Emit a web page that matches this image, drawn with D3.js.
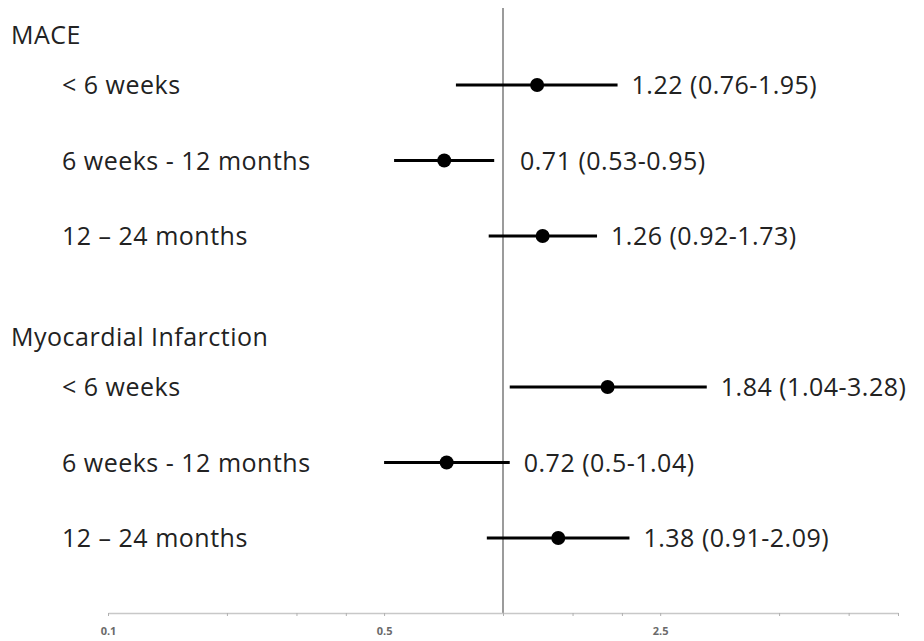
<!DOCTYPE html>
<html>
<head>
<meta charset="utf-8">
<script src="https://cdn.jsdelivr.net/npm/d3@7/dist/d3.min.js"></script>
<style>
  html, body { margin: 0; padding: 0; background: #fff; }
  svg { display: block; }
  text { font-family: "Open Sans", Lato, sans-serif; fill: #222; }
  text.label { font-size: 25px; letter-spacing: 0.5px; }
</style>
</head>
<body>
<svg id="chart" width="924" height="641"></svg>
<script>
// Outcome groups and the follow-up periods within each
const groups = ["MACE", "Myocardial Infarction"];
const periods = ["< 6 weeks", "6 weeks - 12 months", "12 – 24 months"];

// Hazard ratios with 95% confidence intervals, one row per group × period
const rowGroup = [0, 0, 0, 1, 1, 1];
const rowPeriod = [0, 1, 2, 0, 1, 2];
const hr = [1.22, 0.71, 1.26, 1.84, 0.72, 1.38];
const ciLow = [0.76, 0.53, 0.92, 1.04, 0.5, 0.91];
const ciHigh = [1.95, 0.95, 1.73, 3.28, 1.04, 2.09];

// Axis ticks (log scale); only some carry labels
const tickValues = [0.1, 0.2, 0.3, 0.4, 0.5, 1, 1.5, 2, 2.5, 5, 7.5, 10];
const tickLabels = [0.1, 0.5, 2.5];

const svg = d3.select("#chart");

const x = d3.scaleLog().domain([0.1, 10]).range([108, 898]);
// Vertical slots: each group takes three rows plus one spacer row
const y = d3.scaleLinear().domain([0, 6]).range([85, 538]);
const slot = (g, p) => g * 4 + p;

// Reference line at HR = 1
svg.append("line")
  .attr("x1", x(1)).attr("x2", x(1))
  .attr("y1", 8).attr("y2", 613)
  .attr("stroke", "#7a7a7a").attr("stroke-width", 1.5);

// Bottom axis
const axis = d3.axisBottom(x)
  .tickValues(tickValues)
  .tickSize(3)
  .tickSizeOuter(0)
  .tickFormat(d => tickLabels.includes(d) ? d3.format("")(d) : "");
const ax = svg.append("g").attr("transform", "translate(0,613)").call(axis);
ax.select(".domain").attr("stroke", "#c8c8c8").attr("stroke-width", 1.5);
ax.selectAll(".tick line").attr("stroke", "#b0b0b0");
ax.selectAll(".tick text")
  .attr("y", 14)
  .style("font-family", "'Open Sans', sans-serif")
  .style("font-size", "11px")
  .style("font-weight", "bold")
  .style("fill", "#6a6a6a");

// Group headings
svg.selectAll("text.group")
  .data(groups)
  .join("text")
  .attr("class", "group label")
  .attr("x", 11)
  .attr("y", (d, i) => y(i * 4 - 0.66))
  .attr("dy", "0.36em")
  .text(d => d);

const rows = hr.map((v, i) => ({
  g: rowGroup[i], p: rowPeriod[i], hr: v, lo: ciLow[i], hi: ciHigh[i]
}));

// Period labels
svg.selectAll("text.period")
  .data(rows)
  .join("text")
  .attr("class", "period label")
  .attr("x", 62)
  .attr("y", d => y(slot(d.g, d.p)))
  .attr("dy", "0.36em")
  .text(d => periods[d.p]);

// Confidence interval whiskers
svg.selectAll("line.ci")
  .data(rows)
  .join("line")
  .attr("class", "ci")
  .attr("x1", d => x(d.lo)).attr("x2", d => x(d.hi))
  .attr("y1", d => y(slot(d.g, d.p))).attr("y2", d => y(slot(d.g, d.p)))
  .attr("stroke", "#000").attr("stroke-width", 3);

// Point estimates
svg.selectAll("circle.hr")
  .data(rows)
  .join("circle")
  .attr("class", "hr")
  .attr("cx", d => x(d.hr))
  .attr("cy", d => y(slot(d.g, d.p)))
  .attr("r", 7)
  .attr("fill", "#000");

// Value labels: HR (lower-upper)
svg.selectAll("text.value")
  .data(rows)
  .join("text")
  .attr("class", "value label")
  .attr("x", d => Math.max(x(d.hi) + 14, x(1) + 17))
  .attr("y", d => y(slot(d.g, d.p)))
  .attr("dy", "0.36em")
  .text(d => `${d.hr} (${d.lo}-${d.hi})`);
</script>
</body>
</html>
